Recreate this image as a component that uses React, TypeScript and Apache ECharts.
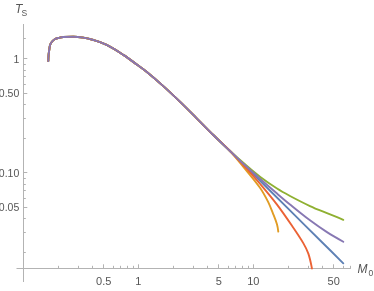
import React, { useEffect, useRef } from "react";
import * as echarts from "echarts";

// Shared part of all curves (M0, T_S)
const baseM = [0.165, 0.166, 0.168, 0.171, 0.178, 0.189, 0.204, 0.223, 0.272, 0.333, 0.406, 0.531, 0.741, 0.985, 1.18, 1.65, 2.3, 3.22, 4.49, 6.27];
const baseT = [0.955, 1.08, 1.19, 1.32, 1.416, 1.49, 1.525, 1.55, 1.56, 1.53, 1.46, 1.32, 1.08, 0.88, 0.769, 0.575, 0.42, 0.3, 0.214, 0.155];

// Tails, one per curve
const blueM = [10, 20, 40, 60.6];
const blueT = [0.0972, 0.0486, 0.0243, 0.01604];
const orangeM = [8.47, 11.43, 13.42, 14.84, 16.08, 16.49];
const orangeT = [0.108, 0.0738, 0.0557, 0.0438, 0.0351, 0.0304];
const greenM = [8.47, 11.43, 16.08, 20.85, 31.1, 43.7, 60.6];
const greenT = [0.1184, 0.0922, 0.0726, 0.0625, 0.051, 0.0441, 0.0386];
const redM = [8.47, 11.43, 16.08, 22.28, 27.2, 30.1, 32.2, 32.4];
const redT = [0.1126, 0.08, 0.0525, 0.0329, 0.0241, 0.0195, 0.0148, 0.0135];
const purpleM = [8.47, 11.43, 16.08, 20.85, 31.1, 43.7, 60.6];
const purpleT = [0.1161, 0.0885, 0.0656, 0.0526, 0.0382, 0.0301, 0.0248];

const xMajor = [0.5, 1, 5, 10, 50];
const xMinor = [0.2, 0.3, 0.4, 0.6, 0.7, 0.8, 0.9, 2, 3, 4, 6, 7, 8, 9, 20, 30, 40, 60, 70];
const yMajor = [0.05, 0.1, 0.5, 1];
const yMinor = [0.02, 0.03, 0.04, 0.06, 0.07, 0.08, 0.09, 0.2, 0.3, 0.4, 0.6, 0.7, 0.8, 0.9, 1.5];
const xLabels: Record<string, string> = { "0.5": "0.5", "1": "1", "5": "5", "10": "10", "50": "50" };
const yLabels: Record<string, string> = { "0.05": "0.05", "0.1": "0.10", "0.5": "0.50", "1": "1" };

const curves = [
  { color: "#5E81B5", m: blueM, t: blueT },
  { color: "#E19C24", m: orangeM, t: orangeT },
  { color: "#8FB032", m: greenM, t: greenT },
  { color: "#EB6235", m: redM, t: redT },
  { color: "#8778B3", m: purpleM, t: purpleT },
];

const FONT = '"Liberation Sans", Arial, sans-serif';
const AXIS = "#b3b3b3";
const LABEL = "#555555";

function fmt(map: Record<string, string>) {
  return (v: number) => {
    const k = String(Number(Number(v).toPrecision(4)));
    return map[k] ?? k;
  };
}

export default function App() {
  const ref = useRef<HTMLDivElement>(null);
  useEffect(() => {
    if (!ref.current) return;
    const chart = echarts.init(ref.current, undefined, { renderer: "svg" });
    const xBase = { type: "log", min: 0.1, max: 70, logBase: 10, gridIndex: 0, position: "bottom", splitLine: { show: false } };
    const yBase = { type: "log", min: 0.0145, max: 2, logBase: 10, gridIndex: 0, position: "left", splitLine: { show: false } };
    chart.setOption({
      animation: false,
      grid: { left: 23.3, top: 24.4, width: 327.2, height: 243.9, containLabel: false, outerBoundsMode: "none" },
      xAxis: [
        {
          ...xBase,
          axisLine: { show: true, lineStyle: { color: AXIS, width: 1 } },
          axisTick: { show: true, inside: true, length: 4, customValues: xMajor, lineStyle: { color: AXIS } },
          axisLabel: { show: true, customValues: xMajor, formatter: fmt(xLabels), color: LABEL, fontSize: 11, fontFamily: FONT, margin: 7 },
        },
        {
          ...xBase,
          axisLine: { show: false },
          axisTick: { show: true, inside: true, length: 2.5, customValues: xMinor, lineStyle: { color: AXIS } },
          axisLabel: { show: false },
        },
      ],
      yAxis: [
        {
          ...yBase,
          axisLine: { show: true, lineStyle: { color: AXIS, width: 1 } },
          axisTick: { show: true, inside: true, length: 4, customValues: yMajor, lineStyle: { color: AXIS } },
          axisLabel: { show: true, customValues: yMajor, formatter: fmt(yLabels), color: LABEL, fontSize: 10.5, fontFamily: FONT, margin: 4 },
        },
        {
          ...yBase,
          axisLine: { show: false },
          axisTick: { show: true, inside: true, length: 2.5, customValues: yMinor, lineStyle: { color: AXIS } },
          axisLabel: { show: false },
        },
      ],
      graphic: [
        { type: "line", shape: { x1: 23.5, y1: 268, x2: 23.5, y2: 282 }, style: { stroke: AXIS, lineWidth: 1 } },
        { type: "line", shape: { x1: 16.5, y1: 268.5, x2: 23.5, y2: 268.5 }, style: { stroke: AXIS, lineWidth: 1 } },
        { type: "text", x: 15, y: 3, style: { text: "T", font: `italic 12px ${FONT}`, fill: LABEL } },
        { type: "text", x: 21.5, y: 8.5, style: { text: "S", font: `8.5px ${FONT}`, fill: LABEL } },
        { type: "text", x: 357.5, y: 263, style: { text: "M", font: `italic 12px ${FONT}`, fill: LABEL } },
        { type: "text", x: 368.5, y: 268.5, style: { text: "0", font: `8.5px ${FONT}`, fill: LABEL } },
      ],
      series: curves.map((c) => ({
        type: "line",
        xAxisIndex: 0,
        yAxisIndex: 0,
        data: baseM.concat(c.m).map((m, i) => [m, baseT.concat(c.t)[i]]),
        showSymbol: false,
        symbol: "none",
        smooth: 0.35,
        clip: true,
        lineStyle: { color: c.color, width: 1.9, cap: "round", join: "round" },
        itemStyle: { color: c.color },
      })),
    });
    return () => chart.dispose();
  }, []);
  return <div ref={ref} style={{ position: "fixed", left: 0, top: 0, width: 374, height: 291 }} />;
}
